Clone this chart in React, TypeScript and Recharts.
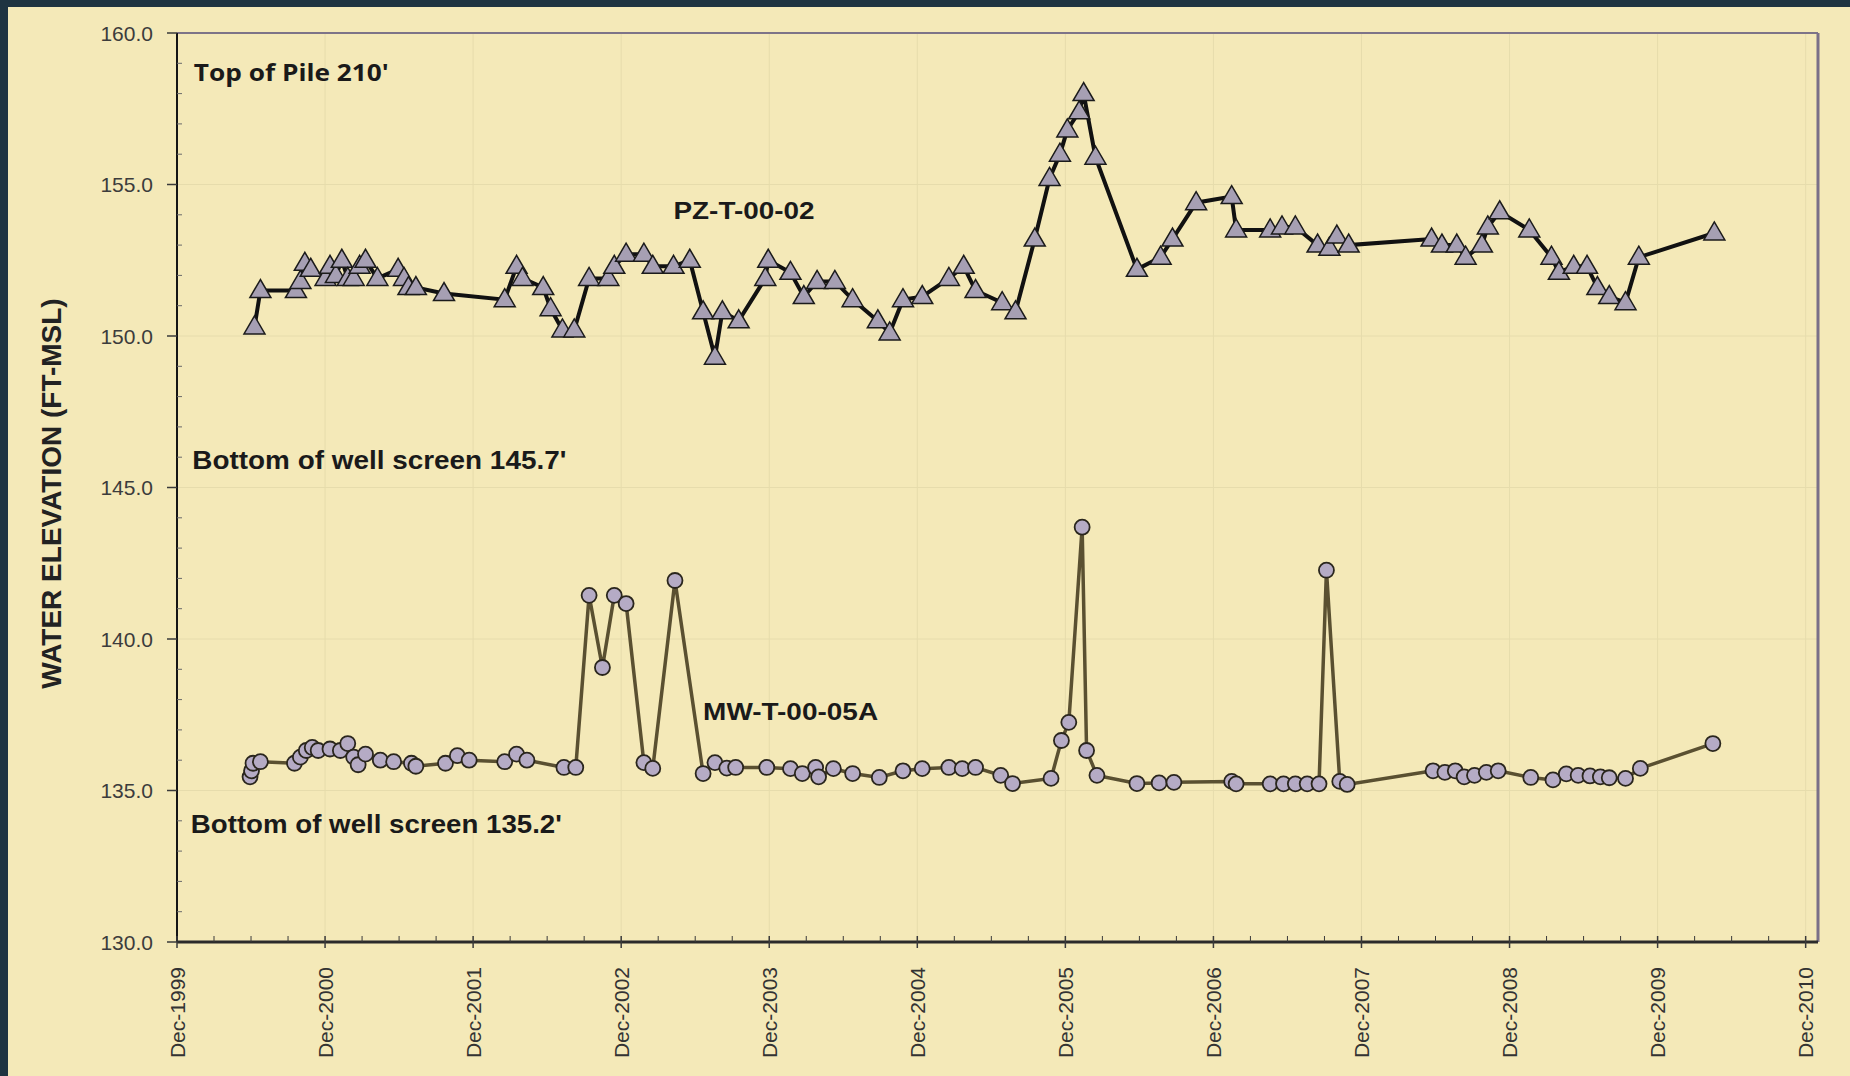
import { ComposedChart, Line, Scatter, XAxis, YAxis, CartesianGrid, ReferenceLine } from "recharts";

// PZ-T-00-02 water levels: sample date (decimal year) and elevation (ft-MSL)
const pzYear = [
  2000.44, 2000.48, 2000.72, 2000.75, 2000.78, 2000.82, 2000.92, 2000.95, 2000.99, 2001.03,
  2001.07, 2001.11, 2001.15, 2001.19, 2001.27, 2001.41, 2001.45, 2001.48, 2001.53, 2001.72,
  2002.13, 2002.21, 2002.25, 2002.39, 2002.44, 2002.52, 2002.6, 2002.7, 2002.83, 2002.87,
  2002.95, 2003.07, 2003.13, 2003.27, 2003.38, 2003.47, 2003.55, 2003.6, 2003.71, 2003.89,
  2003.91, 2004.06, 2004.15, 2004.24, 2004.36, 2004.48, 2004.65, 2004.73, 2004.82, 2004.95,
  2005.13, 2005.23, 2005.31, 2005.49, 2005.58, 2005.71, 2005.81, 2005.88, 2005.93, 2006.01,
  2006.04, 2006.12, 2006.4, 2006.56, 2006.64, 2006.8, 2007.04, 2007.07, 2007.3, 2007.38,
  2007.47, 2007.62, 2007.7, 2007.75, 2007.83, 2008.39, 2008.46, 2008.56, 2008.62, 2008.73,
  2008.77, 2008.85, 2009.05, 2009.2, 2009.25, 2009.35, 2009.44, 2009.51, 2009.59, 2009.7,
  2009.79, 2010.3,
];
const pzLevel = [
  150.3, 151.5, 151.5, 151.8, 152.4, 152.2, 151.9, 152.3, 152.0, 152.5,
  151.9, 151.9, 152.3, 152.5, 151.9, 152.2, 151.9, 151.6, 151.6, 151.4,
  151.2, 152.3, 151.9, 151.6, 150.9, 150.2, 150.2, 151.9, 151.9, 152.3,
  152.7, 152.7, 152.3, 152.3, 152.5, 150.8, 149.3, 150.8, 150.5, 151.9,
  152.5, 152.1, 151.3, 151.8, 151.8, 151.2, 150.5, 150.1, 151.2, 151.3,
  151.9, 152.3, 151.5, 151.1, 150.8, 153.2, 155.2, 156.0, 156.8, 157.4,
  158.0, 155.9, 152.2, 152.6, 153.2, 154.4, 154.6, 153.5, 153.5, 153.6,
  153.6, 153.0, 152.9, 153.3, 153.0, 153.2, 153.0, 153.0, 152.6, 153.0,
  153.6, 154.1, 153.5, 152.6, 152.1, 152.3, 152.3, 151.6, 151.3, 151.1,
  152.6, 153.4,
];

// MW-T-00-05A water levels
const mwYear = [
  2000.41, 2000.42, 2000.43, 2000.48, 2000.71, 2000.75, 2000.79, 2000.83, 2000.87, 2000.95,
  2001.02, 2001.07, 2001.11, 2001.14, 2001.19, 2001.29, 2001.38, 2001.5, 2001.53, 2001.73,
  2001.81, 2001.89, 2002.13, 2002.21, 2002.28, 2002.53, 2002.61, 2002.7, 2002.79, 2002.87,
  2002.95, 2003.07, 2003.13, 2003.28, 2003.47, 2003.55, 2003.63, 2003.69, 2003.9, 2004.06,
  2004.14, 2004.23, 2004.25, 2004.35, 2004.48, 2004.66, 2004.82, 2004.95, 2005.13, 2005.22,
  2005.31, 2005.48, 2005.56, 2005.82, 2005.89, 2005.94, 2006.03, 2006.06, 2006.13, 2006.4,
  2006.55, 2006.65, 2007.04, 2007.07, 2007.3, 2007.39, 2007.47, 2007.55, 2007.63, 2007.68,
  2007.77, 2007.82, 2008.4, 2008.48, 2008.55, 2008.61, 2008.68, 2008.76, 2008.84, 2009.06,
  2009.21, 2009.3, 2009.38, 2009.46, 2009.53, 2009.59, 2009.7, 2009.8, 2010.29,
];
const mwLevel = [
  135.45, 135.65, 135.9, 135.95, 135.9, 136.1, 136.32, 136.42, 136.32, 136.37,
  136.32, 136.55, 136.1, 135.85, 136.2, 136.0, 135.95, 135.9, 135.8, 135.9,
  136.15, 136.0, 135.95, 136.2, 136.0, 135.76, 135.76, 141.44, 139.06, 141.44,
  141.17, 135.92, 135.73, 141.93, 135.56, 135.92, 135.74, 135.76, 135.76, 135.72,
  135.56, 135.76, 135.45, 135.72, 135.56, 135.43, 135.65, 135.72, 135.76, 135.72,
  135.76, 135.5, 135.23, 135.4, 136.65, 137.25, 143.69, 136.32, 135.5, 135.23,
  135.25, 135.27, 135.3, 135.22, 135.22, 135.22, 135.22, 135.22, 135.22, 142.27,
  135.3, 135.2, 135.65, 135.6, 135.65, 135.45, 135.5, 135.6, 135.65, 135.43,
  135.35, 135.55, 135.5, 135.48, 135.45, 135.42, 135.4, 135.73, 136.55,
];

// axis ticks: December of each year, elevation every 5 ft
const tickYears = [1999, 2000, 2001, 2002, 2003, 2004, 2005, 2006, 2007, 2008, 2009, 2010];
const yMajor = [130, 135, 140, 145, 150, 155, 160];

// notes written on the chart
const noteText = ["Top of Pile 210'", "PZ-T-00-02", "Bottom of well screen 145.7'", "MW-T-00-05A", "Bottom of well screen 135.2'"];
const noteYear = [2000.03, 2003.27, 2000.02, 2003.47, 2000.01];
const noteLevel = [158.71, 154.12, 145.9, 137.61, 133.88];

const DEC = 11 / 12;
const FONT = "'Liberation Sans', Arial, sans-serif";

const majorX = tickYears.map((y) => y + DEC);
const xTicks: number[] = [];
majorX.forEach((v, i) => {
  xTicks.push(v);
  if (i < majorX.length - 1) [0.25, 0.5, 0.75].forEach((q) => xTicks.push(v + q));
});
const yTicks: number[] = [];
for (let v = yMajor[0]; v <= yMajor[yMajor.length - 1]; v++) yTicks.push(v);

const pzData = pzYear.map((year, i) => ({ year, level: pzLevel[i] }));
const mwData = mwYear.map((year, i) => ({ year, level: mwLevel[i] }));
const notes = noteText.map((text, i) => ({ year: noteYear[i], level: noteLevel[i], text }));

const noteLook = [
  { family: "'Open Sans', sans-serif", size: 24, len: 195 },
  { family: FONT, size: 23, len: 141 },
  { family: FONT, size: 25, len: 374 },
  { family: FONT, size: 23, len: 175 },
  { family: FONT, size: 25, len: 371 },
];

function XTick(props: any) {
  const { x, y, payload } = props;
  const k = payload.value - DEC;
  const major = Math.abs(k - Math.round(k)) < 0.01;
  return (
    <g>
      <line x1={x} y1={y - 6} x2={x} y2={major ? y + 6 : y} stroke="#3a3a3a" strokeWidth={major ? 1.5 : 1} />
      {major && (
        <text
          transform={`translate(${x},${y + 25}) rotate(-90)`}
          textAnchor="end"
          dy="0.36em"
          fontSize={21}
          fill="#333"
          fontFamily={FONT}
        >
          {`Dec-${Math.round(k)}`}
        </text>
      )}
    </g>
  );
}

function YTick(props: any) {
  const { x, y, payload } = props;
  const v = payload.value;
  const major = v % 5 === 0;
  return (
    <g>
      {major ? (
        <line x1={x - 10} y1={y} x2={x} y2={y} stroke="#3a3a3a" strokeWidth={1.5} />
      ) : (
        <line x1={x} y1={y} x2={x + 5} y2={y} stroke="#6a6a6a" strokeWidth={1} />
      )}
      {major && (
        <text x={x - 24} y={y} dy="0.36em" textAnchor="end" fontSize={21} fill="#3c3c3c" fontFamily={FONT}>
          {v.toFixed(1)}
        </text>
      )}
    </g>
  );
}

function Triangle(props: any) {
  const { cx, cy } = props;
  if (cx == null || cy == null) return null;
  return (
    <polygon
      points={`${cx},${cy - 11} ${cx - 10.5},${cy + 7} ${cx + 10.5},${cy + 7}`}
      fill="#a69fb3"
      stroke="#1b1b1b"
      strokeWidth={1.5}
    />
  );
}

function Note(props: any) {
  const { cx, cy, payload, index } = props;
  const look = noteLook[index] || noteLook[1];
  return (
    <text
      x={cx}
      y={cy}
      dy="0.36em"
      fontFamily={look.family}
      fontSize={look.size}
      fontWeight="bold"
      fill="#1a1a1a"
      textLength={look.len}
      lengthAdjust="spacingAndGlyphs"
    >
      {payload.text}
    </text>
  );
}

function AxisTitle(props: any) {
  const vb = props.viewBox ?? { x: 0, y: 33, width: 177, height: 909 };
  const cx = vb.x + 51;
  const cy = vb.y + vb.height / 2 + 6;
  return (
    <text
      transform={`translate(${cx},${cy}) rotate(-90)`}
      textAnchor="middle"
      dy="0.36em"
      fontSize={28}
      fontWeight="bold"
      fill="#222"
      fontFamily={FONT}
    >
      WATER ELEVATION (FT-MSL)
    </text>
  );
}

export default function App() {
  return (
    <div style={{ position: "absolute", left: 0, top: 0, width: 1850, height: 1076, background: "#1f3441" }}>
      <div style={{ position: "absolute", left: 8, top: 7, right: 0, bottom: 0, background: "#f4e9b8" }} />
      <div style={{ position: "absolute", left: 0, top: 0 }}>
        <ComposedChart width={1850} height={1076} margin={{ top: 33, right: 32, bottom: 0, left: 0 }}>
          <CartesianGrid
            stroke="#e6dcac"
            strokeWidth={1}
            verticalValues={majorX}
            horizontalValues={[135, 140, 145, 150, 155]}
          />
          <XAxis
            type="number"
            dataKey="year"
            domain={[1999 + DEC, 2011]}
            allowDataOverflow
            ticks={xTicks}
            interval={0}
            tick={<XTick />}
            tickLine={false}
            tickSize={0}
            tickMargin={0}
            height={134}
            axisLine={{ stroke: "#2b2b2b", strokeWidth: 3 }}
          />
          <YAxis
            type="number"
            domain={[130, 160]}
            allowDataOverflow
            ticks={yTicks}
            interval={0}
            tick={<YTick />}
            tickLine={false}
            tickSize={0}
            tickMargin={0}
            width={177}
            axisLine={{ stroke: "#151515", strokeWidth: 2 }}
            label={(p: any) => <AxisTitle {...p} />}
          />
          <ReferenceLine y={160} stroke="#7d7488" strokeWidth={2} />
          <ReferenceLine x={2011} stroke="#7a7088" strokeWidth={3} />
          <Line
            data={mwData}
            dataKey="level"
            type="linear"
            stroke="#5a5031"
            strokeWidth={3.5}
            dot={{ r: 7.5, fill: "#b5abc5", stroke: "#2a261d", strokeWidth: 1.8 }}
            activeDot={false}
            isAnimationActive={false}
          />
          <Line
            data={pzData}
            dataKey="level"
            type="linear"
            stroke="#111"
            strokeWidth={4}
            dot={(p: any) => <Triangle key={`t${p.index}`} {...p} />}
            activeDot={false}
            isAnimationActive={false}
          />
          <Scatter
            data={notes}
            dataKey="level"
            isAnimationActive={false}
            shape={(p: any) => <Note {...p} />}
          />
        </ComposedChart>
      </div>
    </div>
  );
}
